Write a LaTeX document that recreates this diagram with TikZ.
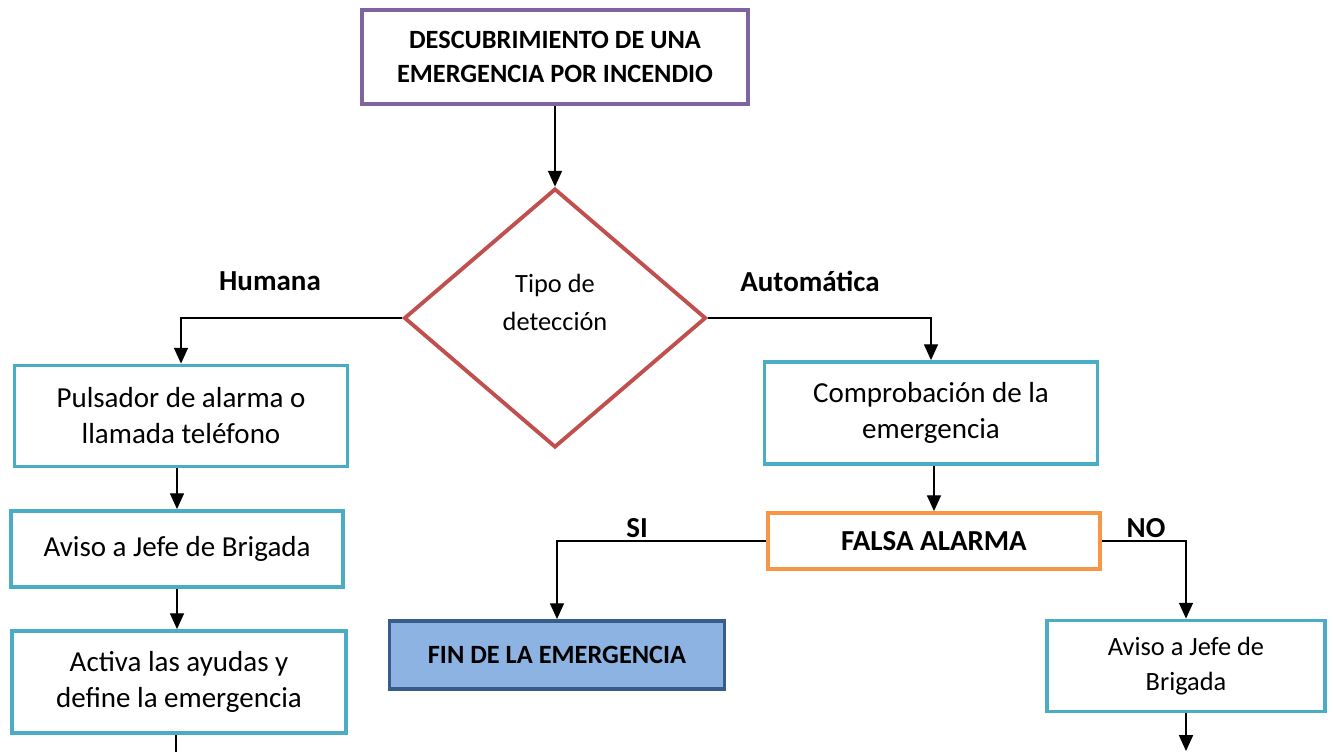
\documentclass[tikz,border=0pt]{standalone}
\usepackage{fontspec}
\setmainfont{Carlito}
\usetikzlibrary{arrows.meta}
\usetikzlibrary{shapes.geometric}

\definecolor{morado}{HTML}{8064A2}
\definecolor{rojo}{HTML}{C0504D}
\definecolor{turquesa}{HTML}{4BACC6}
\definecolor{naranja}{HTML}{F79646}
\definecolor{azulclaro}{HTML}{8DB3E2}
\definecolor{azuloscuro}{HTML}{385D8A}

\newcommand{\grande}{\fontsize{16.5}{20.5}\selectfont}
\newcommand{\mediano}{\fontsize{15}{19.5}\selectfont}

\begin{document}
\begin{tikzpicture}[x=0.02cm,y=-0.02cm,
  caja/.style={draw=turquesa,line width=2.2pt,align=center,inner sep=0pt,font=\grande},
  flecha/.style={-{Triangle[width=8pt,length=9pt]},line width=0.8pt},
  etiqueta/.style={font=\grande\bfseries}]

\useasboundingbox (0,0) rectangle (1333,752);

% inicio y decision
\node[draw=morado,line width=2.2pt,align=center,inner sep=0pt,minimum width=7.72cm,minimum height=1.88cm,font=\mediano\bfseries] (inicio) at (555,57) {DESCUBRIMIENTO DE UNA\\EMERGENCIA POR INCENDIO};
\node[diamond,draw=rojo,line width=2.2pt,align=center,inner sep=0pt,minimum width=6.04cm,minimum height=5.18cm,font=\mediano] (tipo) at (555,318) {Tipo de\\[2pt]detección\\[-2pt]};

\draw[flecha] (inicio.south) -- (tipo.north);

\node[etiqueta] (humana) at (270,281) {Humana};
\node[etiqueta] (automatica) at (810,281) {Automática};

% rama humana
\node[caja,minimum width=6.66cm,minimum height=2.02cm] (pulsador) at (181,416) {Pulsador de alarma o\\llamada teléfono};
\node[caja,minimum width=6.64cm,minimum height=1.52cm] (aviso) at (177,549) {Aviso a Jefe de Brigada};
\node[caja,minimum width=6.68cm,minimum height=2.04cm] (activa) at (179,682) {Activa las ayudas y\\define la emergencia};
\coordinate (abajoizq) at (176,752);

\draw[flecha] (tipo.west) -| (pulsador.north);
\draw[flecha] (aviso.north |- pulsador.south) -- (aviso.north);
\draw[flecha] (aviso.south) -- (aviso.south |- activa.north);
\draw[line width=0.8pt] (activa.south -| abajoizq) -- (abajoizq);

% rama automatica
\node[caja,minimum width=6.66cm,minimum height=2.04cm] (comprobacion) at (931,413) {Comprobación de la\\emergencia};
\node[draw=naranja,line width=2.2pt,inner sep=0pt,minimum width=6.64cm,minimum height=1.12cm,font=\grande\bfseries] (falsa) at (934,541) {FALSA ALARMA};
\node[draw=azuloscuro,fill=azulclaro,line width=2.2pt,inner sep=0pt,minimum width=6.7cm,minimum height=1.36cm,font=\mediano\bfseries] (fin) at (557,655) {FIN DE LA EMERGENCIA};
\node[caja,minimum width=5.56cm,minimum height=1.82cm,font=\mediano] (avisoder) at (1186,666) {Aviso a Jefe de\\Brigada};
\coordinate (abajoder) at (1186,751);

\draw[flecha] (tipo.east) -| (comprobacion.north);
\draw[flecha] (comprobacion.south -| falsa.north) -- (falsa.north);
\draw[flecha] (falsa.west) -| (fin.north);
\draw[flecha] (falsa.east) -| (avisoder.north);
\draw[flecha] (avisoder.south) -- (abajoder);

\node[etiqueta] (si) at (637,528) {SI};
\node[etiqueta] (no) at (1146,528) {NO};

\end{tikzpicture}
\end{document}
